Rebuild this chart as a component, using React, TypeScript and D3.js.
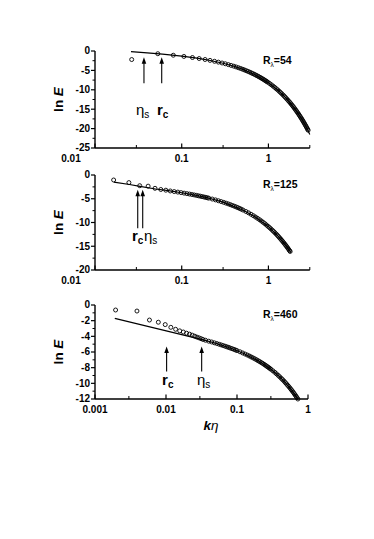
import React from 'react';
import * as d3 from 'd3';

// ---- R_lambda = 54 ----
const k54 = [0.0265, 0.053, 0.08, 0.106, 0.133, 0.159, 0.186, 0.212, 0.239, 0.265, 0.292, 0.318, 0.345, 0.371, 0.398, 0.424, 0.451, 0.477, 0.504, 0.53, 0.557, 0.583, 0.61, 0.636, 0.663, 0.689, 0.716, 0.742, 0.769, 0.795, 0.822, 0.848, 0.875, 0.901, 0.928, 0.954, 0.981, 1.03, 1.08, 1.13, 1.18, 1.23, 1.28, 1.33, 1.38, 1.43, 1.48, 1.53, 1.58, 1.63, 1.68, 1.73, 1.78, 1.83, 1.88, 1.93, 1.98, 2.03, 2.08, 2.13, 2.18, 2.23, 2.28, 2.33, 2.38, 2.43, 2.48, 2.53, 2.58, 2.63, 2.68, 2.73, 2.78, 2.83, 2.87];
const lnE54 = [-2.2, -0.7, -1.09, -1.4, -1.68, -1.94, -2.19, -2.42, -2.65, -2.87, -3.09, -3.29, -3.51, -3.71, -3.91, -4.11, -4.31, -4.5, -4.7, -4.89, -5.08, -5.27, -5.46, -5.65, -5.84, -6.02, -6.21, -6.39, -6.58, -6.76, -6.94, -7.12, -7.31, -7.49, -7.67, -7.85, -8.03, -8.36, -8.7, -9.04, -9.37, -9.71, -10.04, -10.37, -10.71, -11.04, -11.37, -11.7, -12.03, -12.36, -12.69, -13.02, -13.34, -13.67, -14.0, -14.32, -14.65, -14.98, -15.3, -15.63, -15.95, -16.28, -16.6, -16.93, -17.25, -17.57, -17.9, -18.22, -18.54, -18.87, -19.19, -19.51, -19.83, -20.16, -20.41];
const fitK54 = [0.026, 0.04, 0.06, 0.1, 0.15, 0.2, 0.3, 0.4, 0.5, 0.7, 1.0, 1.3, 1.6, 2.0, 2.4, 2.7, 3.0];
const fitE54 = [-0.16, -0.48, -0.81, -1.33, -1.85, -2.32, -3.15, -3.93, -4.67, -6.1, -8.16, -10.17, -12.16, -14.78, -17.38, -19.32, -21.5];

// ---- R_lambda = 125 ----
const k125 = [0.0164, 0.0246, 0.0328, 0.041, 0.0492, 0.0574, 0.0656, 0.0738, 0.082, 0.0902, 0.0984, 0.1066, 0.1148, 0.123, 0.1312, 0.1394, 0.1476, 0.1558, 0.164, 0.1722, 0.1804, 0.1886, 0.1968, 0.205, 0.225, 0.245, 0.265, 0.285, 0.305, 0.325, 0.345, 0.365, 0.385, 0.405, 0.425, 0.445, 0.465, 0.485, 0.51, 0.55, 0.59, 0.63, 0.67, 0.71, 0.75, 0.79, 0.83, 0.87, 0.91, 0.95, 0.99, 1.03, 1.07, 1.11, 1.15, 1.19, 1.23, 1.27, 1.31, 1.35, 1.39, 1.43, 1.47, 1.51, 1.55, 1.59, 1.63, 1.67, 1.71, 1.75, 1.78];
const lnE125 = [-1.05, -1.6, -2.25, -2.35, -2.8, -3.05, -3.2, -3.36, -3.49, -3.6, -3.71, -3.82, -3.92, -4.01, -4.11, -4.2, -4.29, -4.38, -4.46, -4.55, -4.63, -4.71, -4.79, -4.87, -5.06, -5.24, -5.42, -5.59, -5.76, -5.93, -6.09, -6.25, -6.42, -6.57, -6.73, -6.88, -7.04, -7.19, -7.38, -7.68, -7.97, -8.27, -8.56, -8.85, -9.13, -9.41, -9.69, -9.97, -10.25, -10.53, -10.81, -11.08, -11.35, -11.63, -11.9, -12.17, -12.44, -12.71, -12.98, -13.25, -13.51, -13.78, -14.05, -14.31, -14.58, -14.84, -15.11, -15.37, -15.64, -15.9, -16.1];
const fitK125 = [0.0165, 0.025, 0.033, 0.05, 0.07, 0.1, 0.15, 0.2, 0.3, 0.5, 0.7, 1.0, 1.3, 1.6, 1.82];
const fitE125 = [-1.5, -2.0, -2.4, -2.95, -3.3, -3.73, -4.32, -4.82, -5.72, -7.31, -8.77, -10.87, -12.91, -14.91, -16.36];

// ---- R_lambda = 460 ----
const k460 = [0.00195, 0.0039, 0.00585, 0.0078, 0.00975, 0.0117, 0.01365, 0.0156, 0.01755, 0.0195, 0.02145, 0.0234, 0.02535, 0.0273, 0.02925, 0.0312, 0.03315, 0.036, 0.04, 0.044, 0.048, 0.052, 0.056, 0.06, 0.064, 0.068, 0.072, 0.076, 0.08, 0.085, 0.09, 0.095, 0.1, 0.11, 0.12, 0.13, 0.14, 0.15, 0.16, 0.17, 0.18, 0.19, 0.2, 0.21, 0.22, 0.23, 0.24, 0.25, 0.26, 0.27, 0.28, 0.29, 0.3, 0.32, 0.34, 0.36, 0.38, 0.4, 0.42, 0.44, 0.46, 0.48, 0.5, 0.52, 0.54, 0.56, 0.58, 0.6, 0.62, 0.64, 0.66, 0.68, 0.7, 0.72];
const lnE460 = [-0.64, -0.77, -1.92, -2.2, -2.5, -2.85, -3.1, -3.3, -3.45, -3.6, -3.72, -3.85, -3.98, -4.1, -4.2, -4.3, -4.4, -4.5, -4.62, -4.72, -4.83, -4.92, -5.01, -5.1, -5.18, -5.26, -5.34, -5.41, -5.49, -5.57, -5.66, -5.74, -5.82, -5.97, -6.12, -6.26, -6.39, -6.52, -6.65, -6.77, -6.89, -7.01, -7.13, -7.24, -7.35, -7.46, -7.57, -7.68, -7.79, -7.89, -7.99, -8.1, -8.2, -8.4, -8.59, -8.79, -8.98, -9.17, -9.36, -9.54, -9.72, -9.91, -10.09, -10.27, -10.44, -10.62, -10.8, -10.97, -11.14, -11.32, -11.49, -11.66, -11.83, -12.0];
const fitK460 = [0.0019, 0.0335, 0.05, 0.08, 0.12, 0.2, 0.3, 0.4, 0.5, 0.6, 0.72];
const fitE460 = [-1.7, -4.45, -4.88, -5.49, -6.12, -7.13, -8.2, -9.17, -10.09, -10.97, -12.0];

// axis ticks
const yMajor54 = [0, -5, -10, -15, -20, -25];
const yMinor54 = [-2.5, -7.5, -12.5, -17.5, -22.5];
const yMajor125 = [0, -5, -10, -15, -20];
const yMinor125 = [-2.5, -7.5, -12.5, -17.5];
const yMajor460 = [0, -2, -4, -6, -8, -10, -12];
const yMinor460 = [-1, -3, -5, -7, -9, -11];
const xMajorA = [0.01, 0.1, 1];
const xMinorA = [0.03, 0.3, 3];
const xLabelsA = ['0.01', '0.1', '1'];
const xMajorB = [0.001, 0.01, 0.1, 1];
const xMinorB = [0.003, 0.03, 0.3];
const xLabelsB = ['0.001', '0.01', '0.1', '1'];

// annotations: [arrow k, label start k, head lnE, tail lnE, label lnE, symbol, subscript]
const notes54 = [
  [0.0367, 0.0297, -1.6, -8.3, -16.4, 'η', 's'],
  [0.0588, 0.0519, -1.6, -8.3, -16.4, 'r', 'c'],
];
const notes125 = [
  [0.0311, 0.0267, -3.1, -11.2, -13.8, 'r', 'c'],
  [0.0355, 0.0367, -3.1, -11.2, -13.8, 'η', 's'],
];
const notes460 = [
  [0.0102, 0.0088, -5.3, -8.5, -10.2, 'r', 'c'],
  [0.0318, 0.0273, -5.3, -8.5, -10.2, 'η', 's'],
];

const FONT = 'Liberation Sans, Arial, sans-serif';

type PanelProps = {
  xDomain: [number, number];
  xRange: [number, number];
  yDomain: [number, number];
  yRange: [number, number];
  ks: number[];
  es: number[];
  fitK: number[];
  fitE: number[];
  yMajor: number[];
  yMinor: number[];
  xMajor: number[];
  xMinor: number[];
  xLabels: string[];
  firstLabelShift: number;
  notes: any[];
  re: string;
  showXTitle?: boolean;
};

function Panel(p: PanelProps) {
  const x = d3.scaleLog().domain(p.xDomain).range(p.xRange);
  const y = d3.scaleLinear().domain(p.yDomain).range(p.yRange);
  const [x0, x1] = p.xRange;
  const yb = y(p.yDomain[0]);
  const yt = y(p.yDomain[1]);
  const line = d3.line<number>()
    .x((d, i) => x(p.fitK[i]))
    .y(d => y(d));
  const midY = (yb + yt) / 2;

  return (
    <g>
      {/* fitted line */}
      <path d={line(p.fitE) || ''} fill="none" stroke="#000" strokeWidth={1.2} />
      {/* data points */}
      {p.ks.map((k, i) => (
        <circle key={i} cx={x(k)} cy={y(p.es[i])} r={2} fill="none" stroke="#000" strokeWidth={0.9} />
      ))}
      {/* axes */}
      <line x1={x0} x2={x0} y1={yt} y2={yb} stroke="#000" strokeWidth={1.4} />
      <line x1={x0} x2={x1} y1={yb} y2={yb} stroke="#000" strokeWidth={1.4} />
      {p.yMajor.map(v => (
        <g key={'ym' + v}>
          <line x1={x0 - 4} x2={x0} y1={y(v)} y2={y(v)} stroke="#000" strokeWidth={1.2} />
          <text x={x0 - 5} y={y(v) + 3.4} textAnchor="end" fontSize={10} fontWeight="bold" fontFamily={FONT}>{v}</text>
        </g>
      ))}
      {p.yMinor.map(v => (
        <line key={'yn' + v} x1={x0 - 2.5} x2={x0} y1={y(v)} y2={y(v)} stroke="#000" strokeWidth={1} />
      ))}
      {p.xMajor.map((v, i) => (
        <g key={'xm' + v}>
          <line x1={x(v)} x2={x(v)} y1={yb} y2={yb - 4.5} stroke="#000" strokeWidth={1.2} />
          <text x={x(v) + (i === 0 ? p.firstLabelShift : 0)} y={yb + 14} textAnchor="middle" fontSize={10} fontWeight="bold" fontFamily={FONT}>{p.xLabels[i]}</text>
        </g>
      ))}
      {p.xMinor.map(v => (
        <line key={'xn' + v} x1={x(v)} x2={x(v)} y1={yb} y2={yb - 3} stroke="#000" strokeWidth={1} />
      ))}
      {/* y title */}
      <text transform={`translate(63,${midY}) rotate(-90)`} textAnchor="middle" fontSize={13.5} fontWeight="bold" fontFamily={FONT}>
        ln <tspan fontStyle="italic">E</tspan>
      </text>
      {/* Reynolds number */}
      <text x={263} y={yt + 13} fontSize={10.5} fontWeight="bold" fontFamily={FONT}>
        R<tspan fontSize={6.5} dy={2.5} fontWeight="normal">λ</tspan><tspan dy={-2.5}>={p.re}</tspan>
      </text>
      {/* arrows and labels */}
      {p.notes.map((n, i) => {
        const ax = x(n[0]);
        const hy = y(n[2]);
        const ty = y(n[3]);
        const bold = n[5] === 'r';
        return (
          <g key={'n' + i}>
            <line x1={ax} x2={ax} y1={hy + 5} y2={ty} stroke="#000" strokeWidth={1.1} />
            <path d={`M${ax},${hy} L${ax - 2.3},${hy + 6.5} L${ax + 2.3},${hy + 6.5} Z`} fill="#000" />
            <text x={x(n[1])} y={y(n[4])} fontSize={15} fontWeight={bold ? 'bold' : 'normal'} fontFamily={FONT}>
              {n[5]}<tspan fontSize={10} dy={3}>{n[6]}</tspan>
            </text>
          </g>
        );
      })}
      {p.showXTitle && (
        <text x={211} y={yb + 31} textAnchor="middle" fontSize={13.5} fontWeight="bold" fontFamily={FONT}>
          <tspan fontStyle="italic">k</tspan><tspan fontStyle="italic" fontWeight="normal">η</tspan>
        </text>
      )}
    </g>
  );
}

export default function App() {
  return (
    <svg width={374} height={539} style={{ position: 'absolute', left: 0, top: 0, background: '#fff' }}>
      <rect width={374} height={539} fill="#fff" />
      <Panel xDomain={[0.01, 3]} xRange={[95, 309.8]} yDomain={[-25, 0]} yRange={[148, 51]}
        ks={k54} es={lnE54} fitK={fitK54} fitE={fitE54}
        yMajor={yMajor54} yMinor={yMinor54} xMajor={xMajorA} xMinor={xMinorA} xLabels={xLabelsA}
        firstLabelShift={-24} notes={notes54} re="54" />
      <Panel xDomain={[0.01, 3]} xRange={[95, 309.8]} yDomain={[-20, 0]} yRange={[270, 175]}
        ks={k125} es={lnE125} fitK={fitK125} fitE={fitE125}
        yMajor={yMajor125} yMinor={yMinor125} xMajor={xMajorA} xMinor={xMinorA} xLabels={xLabelsA}
        firstLabelShift={-24} notes={notes125} re="125" />
      <Panel xDomain={[0.001, 1]} xRange={[95, 308]} yDomain={[-12, 0]} yRange={[399, 305]}
        ks={k460} es={lnE460} fitK={fitK460} fitE={fitE460}
        yMajor={yMajor460} yMinor={yMinor460} xMajor={xMajorB} xMinor={xMinorB} xLabels={xLabelsB}
        firstLabelShift={0} notes={notes460} re="460" showXTitle />
    </svg>
  );
}
